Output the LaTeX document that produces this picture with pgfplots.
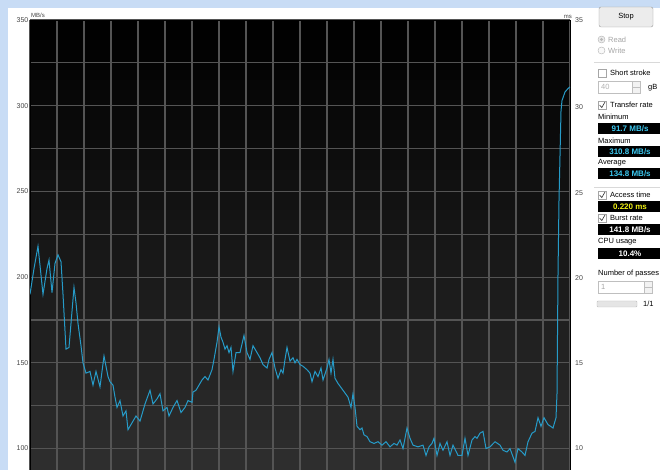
\documentclass[border=0pt]{standalone}
\usepackage{pgfplots}
\pgfplotsset{compat=1.18}
\usepackage{fontspec}
\setmainfont{Liberation Sans}
\definecolor{lblue}{RGB}{200,220,245}
\definecolor{curve}{RGB}{38,155,200}
\definecolor{gridc}{RGB}{84,84,84}
\definecolor{bgbot}{RGB}{46,46,46}
\definecolor{labc}{RGB}{70,70,70}
\definecolor{cyanv}{RGB}{60,200,240}
\definecolor{yelv}{RGB}{240,240,20}
\newcommand{\fs}[1]{\fontsize{#1}{#1}\selectfont}
\begin{document}
\begin{tikzpicture}[x=1pt,y=1pt]
\fill[lblue] (0,0) rectangle (660,470);
\fill[white] (8,0) rectangle (660,462);
% plot-area background gradient (black at top to dark grey at bottom)
\begin{scope}[yshift=470pt, yscale=-1]
\foreach \i in {0,...,44}{
  \pgfmathtruncatemacro\p{\i*100/44}
  \fill[bgbot!\p!black] (30,{20+10*\i}) rectangle (570,{30.6+10*\i});
}
\end{scope}
\begin{axis}[
 at={(30,0)}, anchor=south west, scale only axis, width=540pt, height=450pt,
 xmin=30, xmax=570, ymin=87.5, ymax=350,
 xtick={30,57,...,570}, xticklabels={},
 ytick={100,150,...,350}, minor ytick={125,175,...,325},
 grid=both,
 major grid style={draw=gridc, line width=1.1pt},
 minor grid style={draw=gridc, line width=1.1pt},
 tick style={draw=none}, axis line style={draw=black, line width=0.8pt},
 yticklabel style={font=\fs{7}, text=labc, inner sep=1.5pt},
 /pgf/number format/assume math mode=true,
]
\addplot[curve, line width=1.0pt, mark=none] coordinates {
(30,190)(34,205)(38,218)(43,190)(47,205)(49,210)(52,191)(55,208)(58,213)(61,209)
(63,190)(66,158)(69,159)(72,180)(74,194)(76,185)(78,173)(81,160)(83,150)(86,144)
(90,145)(93,137)(96,145)(100,136)(104,154)(108,142)(110,139)(113,137)(115,130)(117,124)
(120,128)(123,119)(126,122)(128,111)(132,115)(136,119)(140,116)(145,126)(150,134)(153,126)
(157,129)(160,132)(163,122)(167,124)(169,119)(173,124)(177,128)(181,121)(185,124)(188,128)
(192,127)(193,133)(196,134)(199,137)(202,140)(205,142)(208,140)(212,146)(214,152)(217,162)
(219,171)(221,165)(223,162)(225,158)(227,160)(229,156)(231,159)(233,145)(236,156)(240,156)
(244,166)(247,156)(250,152)(253,160)(257,156)(260,153)(263,149)(267,147)(269,152)(272,156)
(275,147)(278,141)(281,146)(283,144)(285,152)(287,159)(290,151)(293,153)(295,150)(297,152)
(300,149)(303,148)(307,146)(310,144)(312,139)(315,145)(318,142)(321,147)(323,140)(327,147)
(329,152)(331,144)(333,152)(335,141)(338,138)(343,134)(348,130)(351,124)(353,132)(355,124)
(357,113)(360,111)(362,112)(364,108)(367,107)(370,104)(374,103)(378,104)(382,102)(386,104)
(390,101)(394,103)(397,102)(400,105)(403,100)(407,112)(410,106)(413,102)(418,101)(423,102)
(426,96)(429,101)(432,103)(434,106)(437,96)(440,103)(443,99)(447,104)(450,96)(453,102)
(458,96)(462,96)(465,106)(468,96)(472,105)(475,107)(477,106)(480,109)(483,110)(486,100)
(490,101)(495,104)(500,102)(503,99)(507,98)(510,100)(515,92)(518,100)(522,98)(525,96)
(528,104)(532,109)(535,110)(538,118)(541,113)(544,118)(548,114)(553,112)(556,118)(557,132)
(558,202)(559,245)(561,297)(562,303)(565,308)(568,310)(570,311)
};
\end{axis}
\begin{scope}[yshift=470pt, yscale=-1]
% axis unit labels
\node[font=\fs{6}, text=labc, anchor=west, inner sep=0] at (31,15.5) {MB/s};
\node[font=\fs{6}, text=labc, anchor=east, inner sep=0] at (572,16.5) {ms};
% right axis (access time, ms)
\foreach \v/\p in {35/20,30/107,25/192.6,20/278,15/363.4,10/448}
  \node[font=\fs{7}, text=labc, anchor=west, inner sep=0] at (575,\p) {\v};
% Stop button
\draw[rounded corners=2pt, draw=gray!80, fill=gray!15] (599,7) rectangle (653,27);
\node[font=\fs{7.5}] at (626,17) {Stop};
% radios
\draw[gray!60, fill=gray!15] (601.5,39.5) circle (3.5);
\fill[gray!55] (601.5,39.5) circle (1.6);
\node[font=\fs{7.5}, text=gray!70, anchor=west, inner sep=0] at (608,39.5) {Read};
\draw[gray!60, fill=gray!5] (601.5,50.5) circle (3.5);
\node[font=\fs{7.5}, text=gray!70, anchor=west, inner sep=0] at (608,50.5) {Write};
\draw[gray!30] (594,62) -- (660,62);
% short stroke
\draw[gray!70, fill=white] (598,69) rectangle (606,77);
\node[font=\fs{7.5}, anchor=west, inner sep=0] at (610,73) {Short stroke};
\draw[gray!50, fill=white] (598,81) rectangle (640,93);
\node[font=\fs{7.5}, text=gray!60, anchor=west, inner sep=0] at (601,87) {40};
\draw[gray!50, fill=gray!10] (632,81) rectangle (640,93);
\draw[gray!50] (632,87) -- (640,87);
\node[font=\fs{7.5}, anchor=west, inner sep=0] at (648,88) {gB};
% transfer rate
\draw[gray!70, fill=white] (598,101) rectangle (606,109);
\draw[black!80, line width=0.6pt] (599.5,105) -- (601.8,107.5) -- (605,102);
\node[font=\fs{7.5}, anchor=west, inner sep=0] at (610,105) {Transfer rate};
\node[font=\fs{7.5}, anchor=west, inner sep=0] at (598,117) {Minimum};
\fill[black] (598,123) rectangle (660,134);
\node[font=\bfseries\fs{8}, text=cyanv] at (630,128.5) {91.7 MB/s};
\node[font=\fs{7.5}, anchor=west, inner sep=0] at (598,140.5) {Maximum};
\fill[black] (598,146) rectangle (660,157);
\node[font=\bfseries\fs{8}, text=cyanv] at (630,151.5) {310.8 MB/s};
\node[font=\fs{7.5}, anchor=west, inner sep=0] at (598,163) {Average};
\fill[black] (598,168.5) rectangle (660,179.5);
\node[font=\bfseries\fs{8}, text=cyanv] at (630,174) {134.8 MB/s};
\draw[gray!30] (594,187) -- (660,187);
% access time
\draw[gray!70, fill=white] (598,191) rectangle (606,199);
\draw[black!80, line width=0.6pt] (599.5,195) -- (601.8,197.5) -- (605,192);
\node[font=\fs{7.5}, anchor=west, inner sep=0] at (610,195) {Access time};
\fill[black] (598,201.5) rectangle (660,212.5);
\node[font=\bfseries\fs{8}, text=yelv] at (630,207) {0.220 ms};
\draw[gray!70, fill=white] (598,214) rectangle (606,222);
\draw[black!80, line width=0.6pt] (599.5,218) -- (601.8,220.5) -- (605,215);
\node[font=\fs{7.5}, anchor=west, inner sep=0] at (610,218) {Burst rate};
\fill[black] (598,224) rectangle (660,235);
\node[font=\bfseries\fs{8}, text=white] at (630,229.5) {141.8 MB/s};
\node[font=\fs{7.5}, anchor=west, inner sep=0] at (598,242) {CPU usage};
\fill[black] (598,248) rectangle (660,259);
\node[font=\bfseries\fs{8}, text=white] at (630,253.5) {10.4\%};
% passes
\node[font=\fs{7.5}, anchor=west, inner sep=0] at (598,274) {Number of passes};
\draw[gray!50, fill=white] (598,281) rectangle (652,293);
\node[font=\fs{7.5}, text=gray!70, anchor=west, inner sep=0] at (601,287) {1};
\draw[gray!50, fill=gray!10] (644,281) rectangle (652,293);
\draw[gray!50] (644,287) -- (652,287);
\draw[gray!50, fill=gray!20, rounded corners=1pt] (597,301) rectangle (637,307);
\node[font=\fs{7.5}, anchor=west, inner sep=0] at (643,304) {1/1};
\end{scope}
\pgfresetboundingbox
\path[use as bounding box] (0,0) rectangle (660,470);
\end{tikzpicture}
\end{document}
